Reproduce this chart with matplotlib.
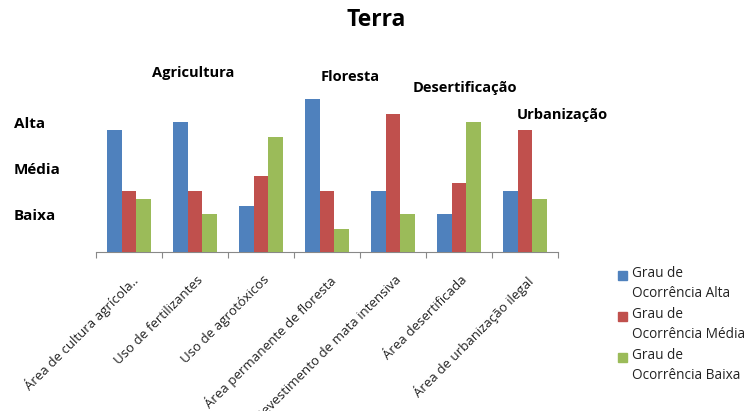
import numpy as np
import matplotlib
matplotlib.use('Agg')
import matplotlib.pyplot as plt
from matplotlib.patches import Rectangle

plt.rcParams['font.family'] = ['Open Sans', 'DejaVu Sans']

categorias = ['Área de cultura agrícola..', 'Uso de fertilizantes', 'Uso de agrotóxicos',
              'Área permanente de floresta', 'Revestimento de mata intensiva',
              'Área desertificada', 'Área de urbanização ilegal']
alta = [16, 17, 6, 20, 8, 5, 8]
media = [8, 8, 10, 8, 18, 9, 16]
baixa = [7, 5, 15, 3, 5, 17, 7]
series = ['Grau de\nOcorrência Alta', 'Grau de\nOcorrência Média', 'Grau de\nOcorrência Baixa']
cores = ['#4F81BD', '#C0504D', '#9BBB59']
grupos = [('Agricultura', 0.97, 23.4), ('Floresta', 3.35, 22.9),
          ('Desertificação', 5.09, 21.5), ('Urbanização', 6.56, 17.9)]
niveis = [('Alta', 16.7), ('Média', 10.7), ('Baixa', 4.7)]

W, H = 751, 411
fig = plt.figure(figsize=(W/100, H/100), dpi=100)
ax = fig.add_axes([96/W, 1-252/H, (558-96)/W, 192/H])

x = np.arange(len(categorias))
w = 0.227
for i, (vals, nome, cor) in enumerate(zip([alta, media, baixa], series, cores)):
    ax.bar(x + (i-1)*w, vals, width=w, color=cor, label=nome, zorder=3)

ax.set_xlim(-0.5, len(categorias)-0.5)
ax.set_ylim(0, 192/7.64)
ax.set_yticks([])
for s in ['top', 'right', 'left']:
    ax.spines[s].set_visible(False)
ax.spines['bottom'].set_color('#888888')
ax.set_xticks(np.arange(len(categorias)+1) - 0.5)
ax.set_xticklabels([])
ax.tick_params(axis='x', length=4, color='#888888', direction='out')
# rotulos rotacionados (o texto longo sai pela borda de baixo, como no original)
for xi, c in zip(x, categorias):
    ax.text(xi + 0.02, -2.8, c, rotation=45, rotation_mode='anchor', ha='right', va='top',
            fontsize=9.5, color='#222222')

for nome, xg, yg in grupos:
    ax.text(xg, yg, nome, ha='center', va='center', fontsize=10.5, fontweight='bold',
            clip_on=False)
for nome, yv in niveis:
    ax.text(-1.75, yv, nome, ha='left', va='center', fontsize=11, fontweight='bold',
            clip_on=False)

fig.text(376/W, 1-20/H, 'Terra', ha='center', va='center', fontsize=16.5, fontweight='bold')

# legenda no estilo do Excel: quadrado alinhado com a primeira linha
for i, (nome, cor) in enumerate(zip(series, cores)):
    yc = 275 + 41*i
    fig.patches.append(Rectangle((618/W, 1-(yc+4.5)/H), 9/W, 9/H, color=cor,
                                 transform=fig.transFigure, figure=fig))
    fig.text(632/W, 1-(yc-9)/H, nome, ha='left', va='top', fontsize=9.8,
             linespacing=1.45, color='#222222')

fig.savefig('out.png', dpi=100)
